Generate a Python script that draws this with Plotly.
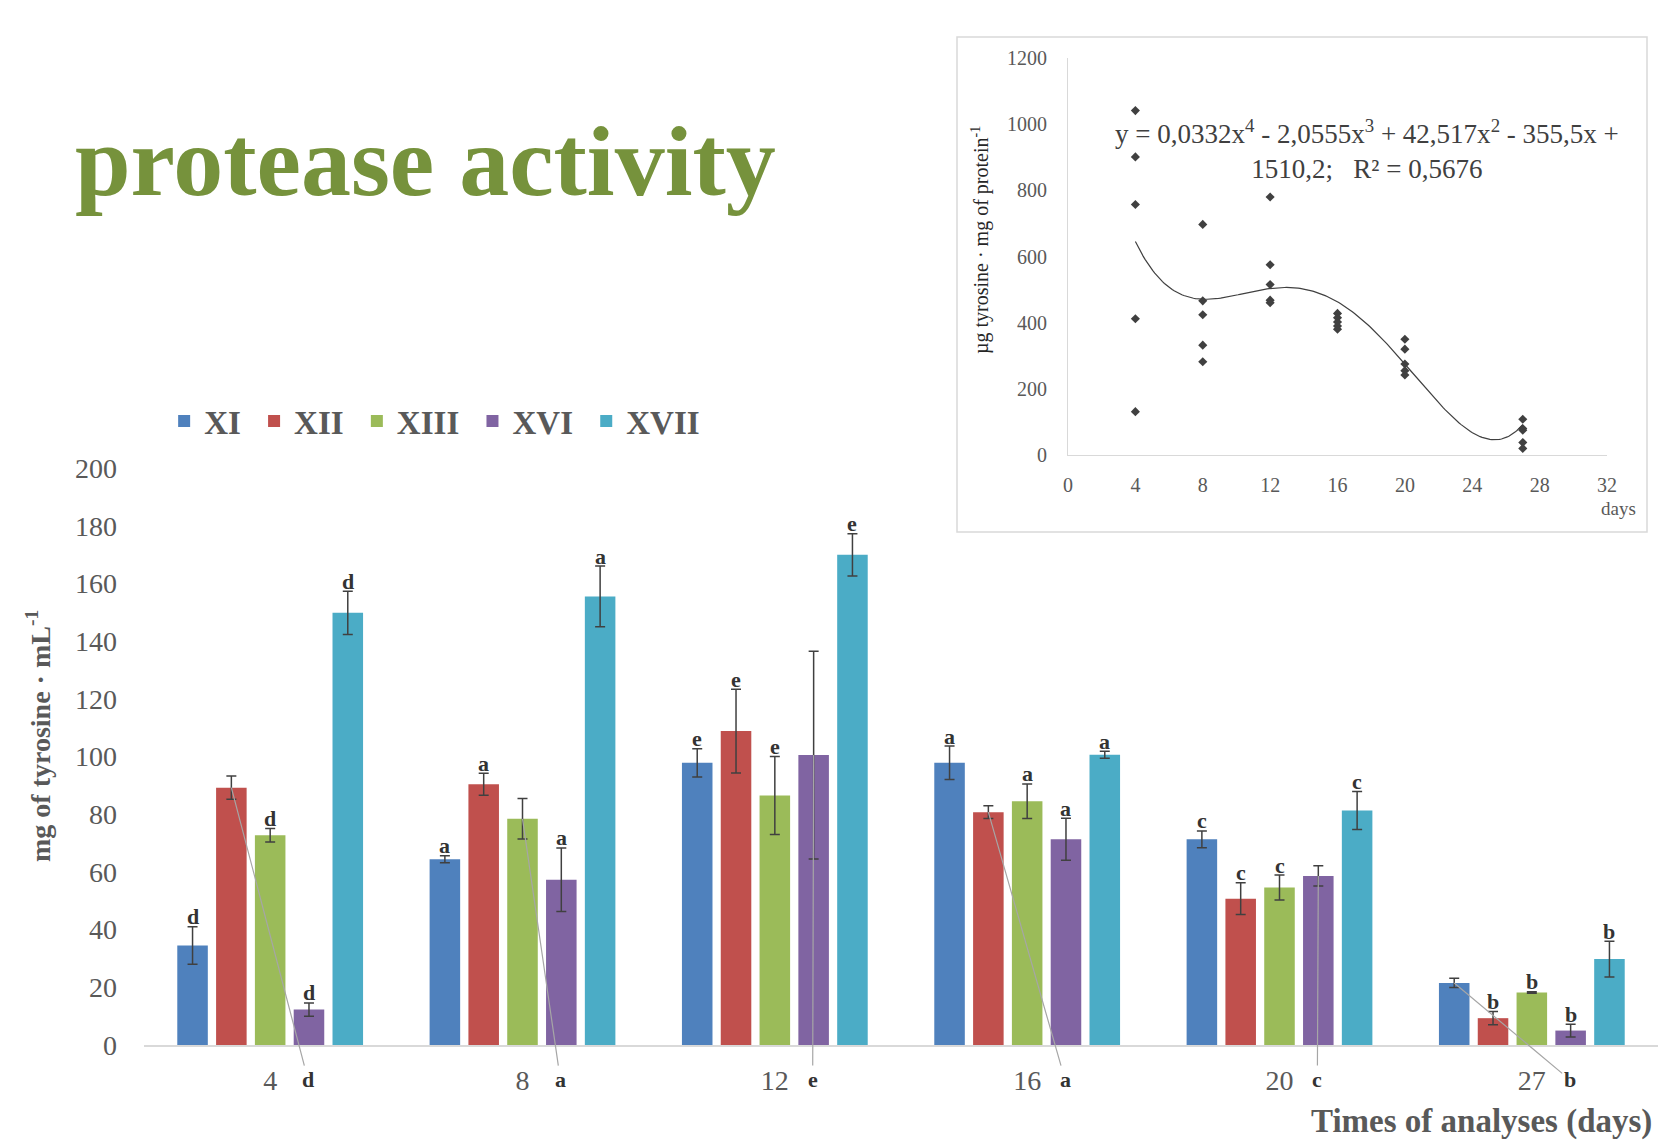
import plotly.graph_objects as go

# ---------------- data ----------------
days = ["4", "8", "12", "16", "20", "27"]
series_names = ["XI", "XII", "XIII", "XVI", "XVII"]
series_colors = ["#4F81BD", "#C0504D", "#9BBB59", "#8064A2", "#4BACC6"]

xi_vals = [34.5, 64.4, 97.8, 97.8, 71.3, 21.5]
xii_vals = [89.2, 90.4, 108.8, 80.7, 50.7, 9.3]
xiii_vals = [72.7, 78.4, 86.5, 84.5, 54.6, 18.2]
xvi_vals = [12.3, 57.3, 100.5, 71.3, 58.6, 5.0]
xvii_vals = [149.8, 155.5, 169.9, 100.6, 81.3, 29.8]

xi_err = [6.5, 1.2, 4.9, 5.8, 2.9, 1.6]
xii_err = [4.0, 3.8, 14.5, 2.2, 5.5, 2.3]
xiii_err = [2.3, 7.0, 13.5, 6.0, 4.3, 0.3]
xvi_err = [2.3, 11.0, 36.0, 7.3, 3.5, 2.2]
xvii_err = [7.5, 10.5, 7.3, 1.2, 6.6, 6.2]

# significance letters per day (same letter for all series in a day)
day_letters = ["d", "a", "e", "a", "c", "b"]
# index of the series whose letter is moved below the axis with a leader line
leader_series = [1, 2, 3, 1, 3, 0]

# inset scatter (µg tyrosine per mg protein)
sc_days = [4, 4, 4, 4, 4,
           8, 8, 8, 8, 8,
           12, 12, 12, 12, 12,
           16, 16, 16, 16, 16,
           20, 20, 20, 20, 20,
           27, 27, 27, 27, 27]
sc_vals = [1041, 901, 757, 412, 131,
           697, 466, 424, 332, 282,
           780, 575, 515, 468, 460,
           428, 415, 402, 390, 380,
           350, 320, 275, 255, 242,
           108, 80, 75, 38, 20]
# trend-line coefficients as printed on the chart (x^4 ... x^0)
trend_coef = [0.0332, -2.0555, 42.517, -355.5, 1510.2]

vals = [xi_vals, xii_vals, xiii_vals, xvi_vals, xvii_vals]
errs = [xi_err, xii_err, xiii_err, xvi_err, xvii_err]

W, H = 1658, 1142
FONT = "Liberation Serif"
GRAY = "#595959"
DARK = "#404040"

BARGAP = 0.231
BARGROUPGAP = 0.213
n_series = len(series_names)
pitch = (1 - BARGAP) / n_series

fig = go.Figure()
for s in range(n_series):
    fig.add_trace(go.Bar(
        x=days, y=vals[s], name="<b>%s</b>&#160;" % series_names[s],
        marker=dict(color=series_colors[s], line=dict(width=0)),
        error_y=dict(type="data", array=errs[s], color=DARK, thickness=1.5, width=5),
        xaxis="x", yaxis="y",
    ))

# inset
fig.add_trace(go.Scatter(
    x=sc_days, y=sc_vals, mode="markers",
    marker=dict(symbol="diamond", size=7, color=DARK),
    xaxis="x2", yaxis="y2", showlegend=False, hoverinfo="x+y",
))
xs = [4 + i * 23 / 200 for i in range(201)]
ys = []
for xv in xs:
    yv = 0.0
    for c in trend_coef:
        yv = yv * xv + c
    ys.append(yv)
fig.add_trace(go.Scatter(
    x=xs, y=ys, mode="lines", line=dict(color=DARK, width=1.2),
    xaxis="x2", yaxis="y2", showlegend=False, hoverinfo="skip",
))

annotations = []
letter_font = dict(family=FONT, size=22, color="#333333")
for g, day in enumerate(days):
    for s in range(n_series):
        xpos = g + (s - (n_series - 1) / 2) * pitch
        top = vals[s][g]
        if s == leader_series[g]:
            annotations.append(dict(
                x=xpos, y=top, xref="x", yref="y",
                ax=g + 0.15, ay=-12, axref="x", ayref="y",
                text="<b>%s</b>" % day_letters[g], font=letter_font,
                showarrow=True, arrowhead=0, arrowwidth=1.2, arrowcolor="#A6A6A6",
                standoff=0,
            ))
        else:
            annotations.append(dict(
                x=xpos, y=top + errs[s][g], xref="x", yref="y",
                text="<b>%s</b>" % day_letters[g], font=letter_font,
                showarrow=False, xanchor="center", yanchor="middle", yshift=10,
            ))

# y-axis title main
annotations.append(dict(
    x=38 / W, y=1 - 736 / H, xref="paper", yref="paper",
    xanchor="center", yanchor="middle",
    text="<b>mg of tyrosine · mL<sup>-1</sup></b>", textangle=-90,
    font=dict(family=FONT, size=28, color=GRAY), showarrow=False,
))
# x-axis title main
annotations.append(dict(
    x=1309 / W, y=1 - 1121 / H, xref="paper", yref="paper",
    xanchor="left", yanchor="middle",
    text="<b>Times of analyses (days)</b>",
    font=dict(family=FONT, size=33, color=GRAY), showarrow=False,
))
# inset texts
annotations.append(dict(
    x=981 / W, y=1 - 240 / H, xref="paper", yref="paper",
    xanchor="center", yanchor="middle",
    text="µg tyrosine · mg of protein<sup>-1</sup>", textangle=-90,
    font=dict(family=FONT, size=20, color="#262626"), showarrow=False,
))
annotations.append(dict(
    x=1367 / W, y=1 - 149 / H, xref="paper", yref="paper",
    xanchor="center", yanchor="middle",
    text=("y = 0,0332x<sup>4</sup> - 2,0555x<sup>3</sup> + 42,517x<sup>2</sup> - 355,5x +"
          "<br>1510,2;&#160;&#160; R² = 0,5676"),
    font=dict(family=FONT, size=27, color=DARK), showarrow=False,
))
annotations.append(dict(
    x=1618 / W, y=1 - 508 / H, xref="paper", yref="paper",
    xanchor="center", yanchor="middle",
    text="days", font=dict(family=FONT, size=19, color=GRAY), showarrow=False,
))

fig.update_layout(
    template="none",
    width=W, height=H, autosize=False,
    margin=dict(l=0, r=0, t=0, b=0, pad=0),
    paper_bgcolor="white", plot_bgcolor="white",
    barmode="group", bargap=BARGAP, bargroupgap=BARGROUPGAP,
    font=dict(family=FONT, color=GRAY),
    title=dict(
        text="<b>protease activity</b>", x=75 / W, xanchor="left",
        y=1 - 160 / H, yanchor="middle", yref="paper", automargin=False,
        font=dict(family=FONT, size=100, color="#76923C"),
    ),
    legend=dict(
        orientation="h", x=0.099, xanchor="left", y=1 - 421 / H, yanchor="middle",
        font=dict(family=FONT, size=33, color=GRAY),
        bgcolor="rgba(0,0,0,0)", borderwidth=0,
        traceorder="normal",
    ),
    xaxis=dict(
        domain=[144 / W, 1.0], range=[-0.5, 5.5], type="category",
        showline=True, linecolor="#D9D9D9", linewidth=1.5,
        showgrid=False, zeroline=False, ticks="", automargin=False,
        tickfont=dict(family=FONT, size=28, color=GRAY),
        ticklabelstandoff=10,
    ),
    yaxis=dict(
        domain=[1 - 1045 / H, 1 - 468 / H], range=[0, 200], dtick=20,
        showline=False, showgrid=False, zeroline=False, ticks="", automargin=False,
        tickfont=dict(family=FONT, size=28, color=GRAY),
        ticklabelstandoff=26,
    ),
    xaxis2=dict(
        domain=[1068 / W, 1607 / W], range=[0, 32], dtick=4, anchor="y2",
        showline=True, linecolor="#D9D9D9", linewidth=1.2,
        showgrid=False, zeroline=False, ticks="", automargin=False,
        tickfont=dict(family=FONT, size=20, color=GRAY),
        ticklabelstandoff=12,
    ),
    yaxis2=dict(
        domain=[1 - 455 / H, 1 - 58 / H], range=[0, 1200], dtick=200, anchor="x2",
        showline=True, linecolor="#D9D9D9", linewidth=1.2,
        showgrid=False, zeroline=False, ticks="", automargin=False,
        tickfont=dict(family=FONT, size=20, color=GRAY),
        ticklabelstandoff=16,
    ),
    shapes=[dict(
        type="rect", xref="paper", yref="paper",
        x0=957 / W, x1=1647 / W, y0=1 - 532 / H, y1=1 - 37 / H,
        line=dict(color="#D9D9D9", width=1.5), fillcolor="rgba(0,0,0,0)", layer="below",
    )],
    annotations=annotations,
)

fig.write_html(
    "out.html",
    config={"displayModeBar": False},
    post_script="document.body.style.margin='0';document.body.style.overflow='hidden';",
)
